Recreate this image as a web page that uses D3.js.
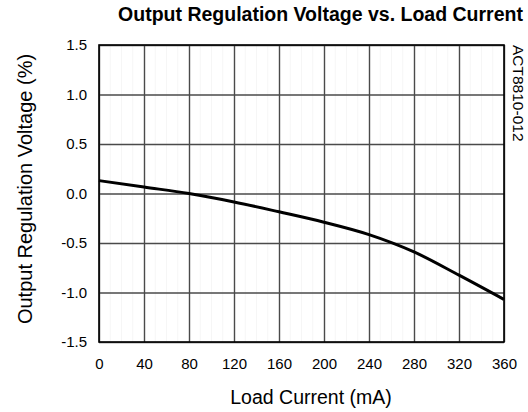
<!DOCTYPE html>
<html>
<head>
<meta charset="utf-8">
<script src="https://cdn.jsdelivr.net/npm/d3@7"></script>
<style>
  body { margin: 0; background: #fff; }
  text { font-family: "Liberation Sans", Arial, sans-serif; fill: #000; }
</style>
</head>
<body>
<div id="chart"></div>
<script>
// load current (mA) and output regulation (%)
const loadCurrent = [0, 40, 80, 120, 160, 200, 240, 280, 320, 360];
const regulation = [0.13, 0.065, 0.0, -0.085, -0.185, -0.29, -0.415, -0.59, -0.825, -1.07];
const xTicks = [0, 40, 80, 120, 160, 200, 240, 280, 320, 360];
const yTicks = [-1.5, -1.0, -0.5, 0.0, 0.5, 1.0, 1.5];

const W = 528, H = 412;
const margin = { top: 45, right: 24, bottom: 70, left: 99 };
const width = W - margin.left - margin.right;
const height = H - margin.top - margin.bottom;
const font = '"Liberation Sans", Arial, sans-serif';

const svg = d3.select('#chart')
  .append('svg')
  .attr('width', W)
  .attr('height', H);

const g = svg.append('g')
  .attr('transform', `translate(${margin.left},${margin.top})`);

const x = d3.scaleLinear().domain([0, 360]).range([0, width]);
const y = d3.scaleLinear().domain([-1.5, 1.5]).range([height, 0]);

// faint minor grid
g.append('g')
  .selectAll('line')
  .data(d3.range(10, 360, 10).filter(d => d % 40 !== 0))
  .enter()
  .append('line')
  .attr('x1', d => x(d)).attr('x2', d => x(d))
  .attr('y1', 0).attr('y2', height)
  .attr('stroke', '#f6f6f6')
  .attr('stroke-width', 1);

// major grid
g.append('g')
  .call(d3.axisBottom(x).tickValues(xTicks).tickSize(height).tickFormat(''))
  .call(a => a.select('.domain').remove())
  .call(a => a.selectAll('line').attr('stroke', '#4a4a4a').attr('stroke-width', 1.4));

g.append('g')
  .call(d3.axisLeft(y).tickValues(yTicks).tickSize(-width).tickFormat(''))
  .call(a => a.select('.domain').remove())
  .call(a => a.selectAll('line').attr('stroke', '#4a4a4a').attr('stroke-width', 1.4));

// frame
g.append('rect')
  .attr('x', 0).attr('y', 0)
  .attr('width', width).attr('height', height)
  .attr('fill', 'none')
  .attr('stroke', '#000')
  .attr('stroke-width', 1.6);

// tick labels
g.append('g')
  .attr('transform', `translate(0,${height})`)
  .call(d3.axisBottom(x).tickValues(xTicks).tickSize(0).tickPadding(16))
  .call(a => a.select('.domain').remove())
  .call(a => a.selectAll('text').style('font-size', '15px').style('font-family', font).attr('fill', '#000'));

g.append('g')
  .call(d3.axisLeft(y).tickValues(yTicks).tickSize(0).tickPadding(12))
  .call(a => a.select('.domain').remove())
  .call(a => a.selectAll('text').style('font-size', '15px').style('font-family', font).attr('fill', '#000')
    .text(d => d3.format('.1f')(d).replace('−', '-')));

// curve
const line = d3.line()
  .x((d, i) => x(loadCurrent[i]))
  .y(d => y(d))
  .curve(d3.curveMonotoneX);

g.append('path')
  .datum(regulation)
  .attr('d', line)
  .attr('fill', 'none')
  .attr('stroke', '#000')
  .attr('stroke-width', 3);

// titles
svg.append('text')
  .attr('x', 320.5)
  .attr('y', 21)
  .attr('text-anchor', 'middle')
  .style('font-size', '19.5px')
  .style('font-weight', 'bold')
  .text('Output Regulation Voltage vs. Load Current');

svg.append('text')
  .attr('x', 311)
  .attr('y', 404)
  .attr('text-anchor', 'middle')
  .style('font-size', '19.5px')
  .text('Load Current (mA)');

svg.append('text')
  .attr('transform', `translate(32,189) rotate(-90)`)
  .attr('text-anchor', 'middle')
  .style('font-size', '20px')
  .text('Output Regulation Voltage (%)');

svg.append('text')
  .attr('transform', `translate(513,45) rotate(90)`)
  .attr('text-anchor', 'start')
  .style('font-size', '15.5px')
  .text('ACT8810-012');
</script>
</body>
</html>
